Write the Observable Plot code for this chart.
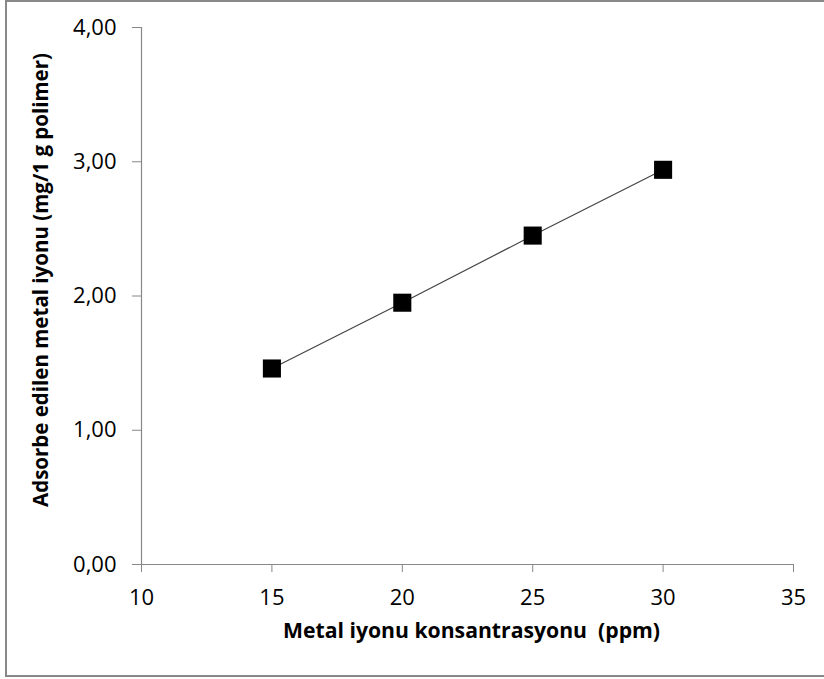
<!DOCTYPE html>
<html>
<head>
<meta charset="utf-8">
<script src="https://cdn.jsdelivr.net/npm/d3@7"></script>
<script src="https://cdn.jsdelivr.net/npm/@observablehq/plot@0.6"></script>
<style>
  html, body { margin: 0; padding: 0; background: #fff; overflow: hidden; }
  #wrap { position: relative; width: 824px; height: 679px; overflow: hidden; }
  #border {
    position: absolute; left: 5px; top: 0px; width: 860px; height: 673px;
    border: 2px solid #888; border-right: none; box-sizing: content-box; pointer-events: none;
  }
  #chart { position: absolute; left: 0; top: 0; }
</style>
</head>
<body>
<div id="wrap">
  <div id="chart"></div>
  <div id="border"></div>
</div>
<script>
// Metal ion concentration (ppm) and adsorbed amount (mg per 1 g polymer)
const concentration = [15, 20, 25, 30];
const adsorbed = [1.46, 1.95, 2.45, 2.94];

// Axis ticks
const xTicks = [10, 15, 20, 25, 30, 35];
const yTicks = [0, 1, 2, 3, 4];

const xTitle = "Metal iyonu konsantrasyonu  (ppm)";
const yTitle = "Adsorbe edilen metal iyonu (mg/1 g polimer)";

const data = concentration.map((c, i) => ({c, a: adsorbed[i]}));
const commaFmt = (v) => d3.format(".2f")(v).replace(".", ",");

const axisGray = "#888";
const font = "'Open Sans', sans-serif";

const chart = Plot.plot({
  width: 824,
  height: 679,
  marginLeft: 141,
  marginRight: 31,
  marginTop: 27,
  marginBottom: 115,
  style: {fontFamily: font, fontSize: "22px", color: "#000", background: "transparent"},
  x: {domain: [10, 35]},
  y: {domain: [0, 4]},
  marks: [
    Plot.axisX(xTicks, {
      tickSize: 8, tickPadding: 17, stroke: axisGray, fill: "#000",
      fontSize: 22, label: null
    }),
    Plot.axisY(yTicks, {
      tickSize: 9, tickPadding: 16, stroke: axisGray, fill: "#000",
      fontSize: 22, tickFormat: commaFmt, label: null
    }),
    Plot.ruleY([0], {stroke: axisGray, strokeWidth: 1.2}),
    Plot.ruleX([10], {stroke: axisGray, strokeWidth: 1.2}),
    Plot.line(data, {x: "c", y: "a", stroke: "#444", strokeWidth: 1.2}),
    Plot.dot(data, {x: "c", y: "a", symbol: "square", r: 10.2, fill: "#000", stroke: "none"}),
    Plot.text([xTitle], {
      frameAnchor: "bottom", dy: 73, dx: 4, fontWeight: "bold", fontSize: 21.2, fill: "#000"
    }),
    Plot.text([yTitle], {
      frameAnchor: "left", textAnchor: "middle", rotate: -90, dx: -100, dy: -16,
      fontWeight: "bold", fontSize: 20.5, fill: "#000"
    })
  ]
});

document.getElementById("chart").appendChild(chart);
</script>
</body>
</html>
